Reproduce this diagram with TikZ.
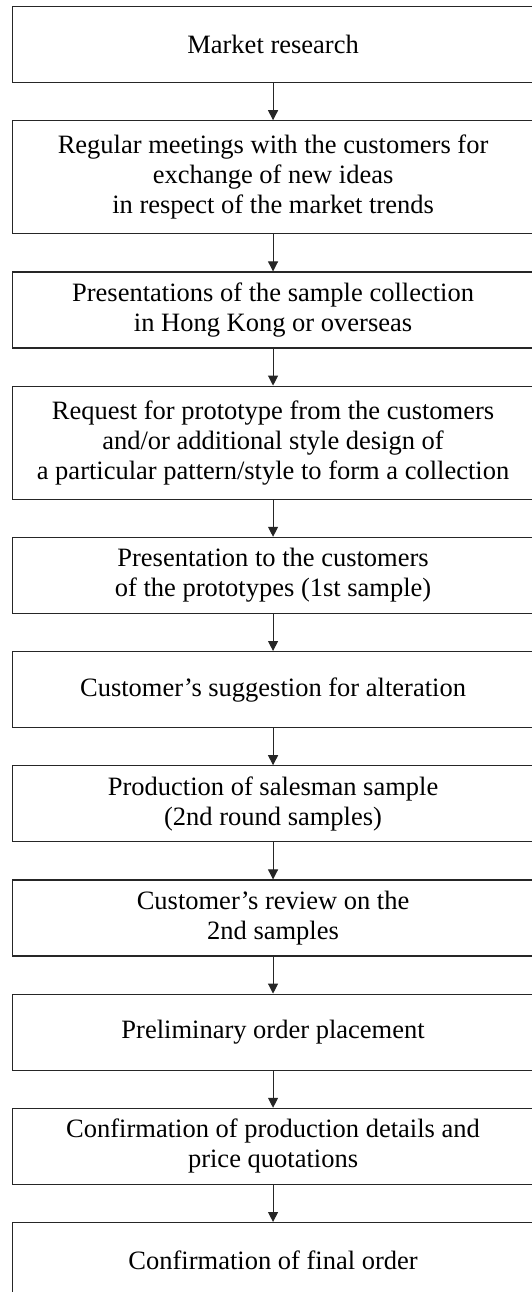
\documentclass[tikz,border=0pt]{standalone}
\usepackage{fontspec}
\setmainfont{Liberation Serif}
\usetikzlibrary{arrows.meta}
\begin{document}
\begin{tikzpicture}[x=1pt,y=-1pt,
  flowbox/.style={draw=black!85, line width=1.1pt, anchor=north west,
    minimum width=521pt, inner sep=0pt, align=center,
    font=\fontsize{26.5}{30}\selectfont},
  shortbox/.style={flowbox, minimum height=76pt},
  tallbox/.style={flowbox, minimum height=113pt},
  flowarr/.style={draw=black!85, line width=1.1pt, -{Triangle[length=10pt,width=10pt]}}]
\useasboundingbox (0,0) rectangle (531,1292);
\node[shortbox] (b1) at (12,6) {Market research};
\node[tallbox] (b2) at (12,120.2) {Regular meetings with the customers for\\exchange of new ideas\\in respect of the market trends};
\node[shortbox] (b3) at (12,271.4) {Presentations of the sample collection\\in Hong Kong or overseas};
\node[tallbox] (b4) at (12,385.6) {Request for prototype from the customers\\and/or additional style design of\\a particular pattern/style to form a collection};
\node[shortbox] (b5) at (12,536.8) {Presentation to the customers\\of the prototypes (1st sample)};
\node[shortbox] (b6) at (12,651) {Customer’s suggestion for alteration};
\node[shortbox] (b7) at (12,765.2) {Production of salesman sample\\(2nd round samples)};
\node[shortbox] (b8) at (12,879.4) {Customer’s review on the\\2nd samples};
\node[shortbox] (b9) at (12,993.6) {Preliminary order placement};
\node[shortbox] (b10) at (12,1107.8) {Confirmation of production details and\\price quotations};
\node[shortbox] (b11) at (12,1222) {Confirmation of final order};
\foreach \a/\b in {b1/b2,b2/b3,b3/b4,b4/b5,b5/b6,b6/b7,b7/b8,b8/b9,b9/b10,b10/b11}
  \draw[flowarr] (\a.south) -- (\b.north);
\end{tikzpicture}
\end{document}
